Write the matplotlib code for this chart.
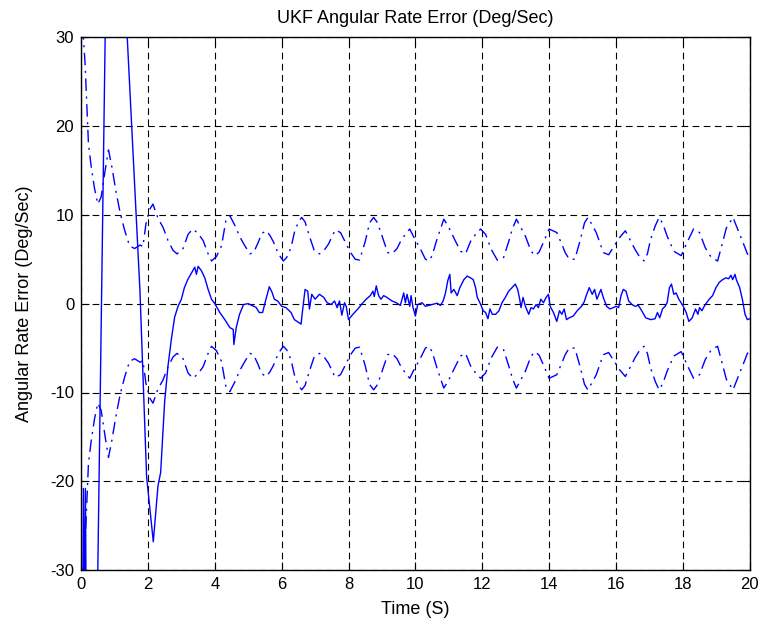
import numpy as np
import matplotlib
matplotlib.use("Agg")
import matplotlib.pyplot as plt

# 3-sigma style bound (upper; lower is its mirror)
bound_t = [0.0, 0.05, 0.12, 0.22, 0.3, 0.4, 0.5, 0.6, 0.72, 0.82, 0.92, 1.05, 1.17, 1.3, 1.45,
           1.6, 1.77, 1.85, 1.94, 2.05, 2.15, 2.3, 2.45, 2.6, 2.75, 2.87, 3.04, 3.2, 3.34, 3.5,
           3.65, 3.8, 3.9, 4.05, 4.2, 4.33, 4.45, 4.6, 4.75, 4.9, 5.05, 5.16, 5.3, 5.4, 5.55,
           5.66, 5.76, 5.9, 6.05, 6.15, 6.28, 6.38, 6.5, 6.6, 6.7, 6.83, 6.98, 7.13, 7.25, 7.4,
           7.6, 7.76, 7.96, 8.06, 8.2, 8.33, 8.5, 8.63, 8.75, 8.85, 8.95, 9.17, 9.3, 9.45, 9.57,
           9.7, 9.83, 9.95, 10.13, 10.3, 10.4, 10.5, 10.65, 10.85, 10.95, 11.05, 11.15, 11.35,
           11.5, 11.65, 11.8, 11.95, 12.1, 12.27, 12.45, 12.64, 12.8, 12.9, 13.02, 13.15, 13.29,
           13.46, 13.58, 13.7, 13.83, 14.0, 14.23, 14.4, 14.48, 14.6, 14.77, 14.92, 15.06, 15.16,
           15.28, 15.41, 15.62, 15.78, 15.95, 16.1, 16.28, 16.42, 16.57, 16.7, 16.84, 16.94,
           17.04, 17.18, 17.29, 17.4, 17.53, 17.73, 17.95, 18.13, 18.32, 18.5, 18.67, 18.85,
           19.04, 19.19, 19.3, 19.5, 19.68, 19.86, 19.93, 20.0]
bound_v = [34, 31, 27, 18, 15.5, 13, 11.2, 12, 15, 17.3, 15.4, 12.5, 10.2, 8.3, 6.5,
           6.2, 6.6, 6.4, 9.0, 10.6, 11.2, 9.6, 8.6, 7.1, 6.0, 5.6, 6.1, 7.8, 8.4, 7.9,
           7.1, 5.6, 4.8, 5.3, 6.5, 9.3, 9.9, 8.8, 7.5, 6.5, 5.6, 5.75, 6.9, 7.9, 8.2,
           7.6, 6.9, 5.6, 4.8, 5.2, 6.3, 8.0, 9.2, 9.7, 9.2, 7.6, 5.9, 5.6, 5.9, 6.7,
           8.3, 8.0, 6.5, 5.75, 5.0, 4.9, 7.0, 9.1, 9.7, 9.2, 8.2, 5.75, 5.6, 6.2, 7.1,
           7.8, 8.4, 7.5, 6.3, 5.0, 4.8, 5.4, 7.3, 9.5, 8.9, 8.2, 7.4, 5.9,
           5.6, 7.0, 7.8, 8.4, 7.8, 6.1, 4.9, 5.2, 7.1, 8.4, 9.5, 8.6, 7.6,
           5.9, 5.4, 5.8, 6.9, 8.4, 8.0, 6.5, 5.75, 5.0, 5.0, 7.0, 9.1, 9.7,
           8.9, 8.0, 5.75, 5.5, 6.5, 7.4, 8.2, 7.2, 6.1, 5.3, 4.8, 5.6,
           7.3, 8.8, 9.7, 9.0, 7.6, 5.9, 5.4, 6.9, 8.4, 8.0, 6.3, 5.2,
           4.8, 6.9, 8.5, 9.7, 8.0, 6.3, 5.6, 5.4]

# angular rate error
err_t = [0.04, 0.07, 0.1, 0.13, 0.16, 0.45, 0.5, 0.72, 0.9, 1.1, 1.38, 1.76, 1.96,
         2.16, 2.3, 2.38, 2.5, 2.6, 2.7, 2.8, 2.9, 3.0, 3.09, 3.19, 3.34, 3.4, 3.45, 3.5,
         3.6, 3.7, 3.8, 3.9, 4.0, 4.15, 4.3, 4.45, 4.55, 4.57, 4.64, 4.74, 4.86, 5.0, 5.16,
         5.23, 5.33, 5.43, 5.53, 5.63, 5.71, 5.78, 5.88, 6.0, 6.13, 6.28, 6.38, 6.58, 6.63,
         6.7, 6.78, 6.83, 6.9, 7.0, 7.13, 7.26, 7.36, 7.48, 7.58, 7.66, 7.73, 7.8, 7.88,
         7.93, 8.0, 8.13, 8.28, 8.43, 8.53, 8.65, 8.73, 8.77, 8.83, 8.9, 8.97, 9.05, 9.15,
         9.3, 9.43, 9.55, 9.6, 9.65, 9.7, 9.75, 9.83, 9.87, 9.93, 10.0, 10.07, 10.2, 10.3,
         10.4, 10.5, 10.65, 10.75, 10.83, 10.9, 10.97, 11.03, 11.07, 11.15, 11.25, 11.33,
         11.45, 11.55, 11.65, 11.73, 11.8, 11.85, 11.93, 12.03, 12.1, 12.17, 12.23, 12.3,
         12.4, 12.5, 12.59, 12.69, 12.79, 12.89, 12.99, 13.06, 13.12, 13.16, 13.22, 13.29,
         13.39, 13.46, 13.53, 13.61, 13.68, 13.75, 13.83, 13.91, 13.98, 14.03, 14.13, 14.23,
         14.31, 14.38, 14.45, 14.52, 14.6, 14.72, 14.84, 14.97, 15.05, 15.11, 15.2, 15.29,
         15.36, 15.43, 15.49, 15.55, 15.62, 15.72, 15.82, 15.92, 16.0, 16.08, 16.15, 16.22,
         16.3, 16.38, 16.48, 16.57, 16.67, 16.77, 16.89, 17.04, 17.17, 17.24, 17.31, 17.39,
         17.47, 17.53, 17.6, 17.66, 17.73, 17.8, 17.88, 18.0, 18.1, 18.18, 18.28, 18.38,
         18.45, 18.5, 18.57, 18.64, 18.71, 18.79, 18.89, 18.99, 19.09, 19.19, 19.29, 19.37,
         19.44, 19.49, 19.56, 19.6, 19.7, 19.78, 19.86, 19.93, 20.0]
err_v = [-40, -20.8, -35, -20.8, -40, -33, -30, 30, 42, 42, 30, 1.5, -19.5,
         -26.8, -20.5, -19, -11, -7, -4, -1.5, -0.3, 0.5, 1.8, 2.7, 3.7, 4.1, 3.3, 4.2,
         3.7, 2.9, 1.6, 0.5, 0, -1.0, -1.8, -2.7, -2.9, -4.6, -2.7, -1.2, -0.1, 0, -0.3,
         -0.4, -1.0, -1.0, 0.5, 1.9, 1.3, 0.5, 0.3, -0.3, -0.45, -1.0, -1.8, -2.3, -0.6,
         1.6, 1.4, -0.6, 1.05, 0.5, 1.05, 0.7, 0.1, -0.1, 0.3, -0.45, 0.3, -1.3, 0.1,
         -0.3, -1.8, -1.2, -0.6, 0.1, 0.5, 0.9, 1.4, 0.8, 2.0, 0.9, 0.5, 0.9, 0.7,
         0.3, 0.1, -0.2, 0.5, 1.2, 0.1, 1.05, -0.3, 0.9, -0.45, -1.4, -0.1, 0.1, -0.3,
         -0.2, -0.1, 0.05, -0.2, 0.3, 1.2, 2.6, 3.3, 1.2, 1.6, 0.9, 1.8,
         2.7, 3.1, 2.9, 2.7, 1.8, 0.7, 0.1, -0.8, -1.0, -1.7, -0.6, -1.2,
         -1.2, -0.8, 0.1, 0.7, 1.4, 1.8, 2.2, 1.6, 0.5, -0.45, 0.7, -0.3,
         -1.2, -0.45, -0.6, -0.1, -0.45, 0.5, 0.1, 0.7, 1.05, -0.3, -1.0, -2.0,
         -0.8, -1.2, -0.6, -1.8, -1.6, -1.4, -0.8, -0.3, 0.2, 0.9, 1.8, 1.05,
         1.6, 0.5, 1.05, 1.6, 0.7, -0.3, -0.6, -0.45, -0.3, -0.45, 0.9, 1.6,
         1.4, 0.3, -0.1, -0.3, -0.2, -0.8, -1.6, -1.8, -1.7, -1.0, -1.6, -0.6,
         -0.3, 0.1, 1.8, 2.2, 1.05, 1.2, 0.5, -0.2, -1.0, -2.0, -1.6, -0.6,
         -1.2, -0.45, -0.8, -0.3, 0.1, 0.5, 0.9, 1.8, 2.4, 2.7, 2.9, 2.8,
         3.2, 2.7, 3.3, 2.7, 1.8, 0.5, -1.2, -1.8, -1.7]

xticks = np.arange(0, 21, 2)
yticks = np.arange(-30, 31, 10)

plt.rcParams['font.family'] = ['Liberation Sans', 'DejaVu Sans']
plt.rcParams['axes.unicode_minus'] = False

fig = plt.figure(figsize=(7.65, 6.28), dpi=100)
ax = fig.add_axes([0.106, 0.092, 0.874, 0.849])

bound_v = np.array(bound_v)
dashdot = (0, (9, 4, 1.5, 4))
ax.plot(err_t, err_v, color='blue', lw=1.0)
ax.plot(bound_t, bound_v, color='blue', lw=1.0, linestyle=dashdot)
ax.plot(bound_t, -bound_v, color='blue', lw=1.0, linestyle=dashdot)

ax.set_xlim(0, 20)
ax.set_ylim(-30, 30)
ax.set_xticks(xticks)
ax.set_yticks(yticks)
ax.grid(True, color='black', linestyle=(0, (6, 4)), lw=0.8)
ax.tick_params(direction='in', top=True, right=True, length=6, labelsize=12, pad=5)
for s in ax.spines.values():
    s.set_linewidth(1.0)

ax.set_title('UKF Angular Rate Error (Deg/Sec)', fontsize=13, pad=10)
ax.set_xlabel('Time (S)', fontsize=13, labelpad=6)
ax.set_ylabel('Angular Rate Error (Deg/Sec)', fontsize=13, labelpad=12)

fig.savefig('out.png', dpi=100)
